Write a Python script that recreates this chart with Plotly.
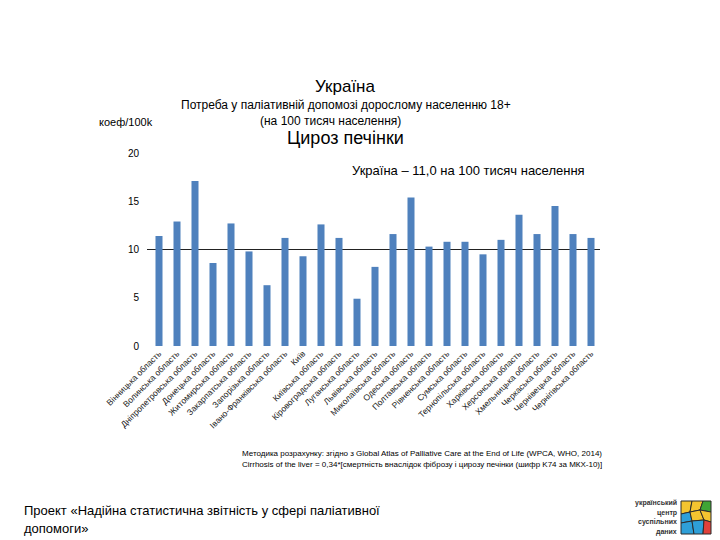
import plotly.graph_objects as go

regions = [
    "Вінницька область", "Волинська область", "Дніпропетровська область",
    "Донецька область", "Житомирська область", "Закарпатська область",
    "Запорізька область", "Івано-Франківська область", "Київ",
    "Київська область", "Кіровоградська область", "Луганська область",
    "Львівська область", "Миколаївська область", "Одеська область",
    "Полтавська область", "Рівненська область", "Сумська область",
    "Тернопільська область", "Харківська область", "Херсонська область",
    "Хмельницька область", "Черкаська область", "Чернівецька область",
    "Чернігівська область",
]
values = [11.4, 12.9, 17.1, 8.6, 12.7, 9.8, 6.3, 11.2, 9.3, 12.6, 11.2, 4.9,
          8.2, 11.6, 15.4, 10.3, 10.8, 10.8, 9.5, 11.0, 13.6, 11.6, 14.5,
          11.6, 11.2]
reference_level = 10
y_ticks = [0, 5, 10, 15, 20]

FONT = "Liberation Sans, Arial, sans-serif"
OFF = 8  # page body margin
PAGE_W, PAGE_H = 720, 540
W, H = PAGE_W - OFF, PAGE_H - OFF
L, R, T, B = 150, 600, 153, 346  # plot area in page pixels


def px(x):
    return (x - L) / (R - L)


def py(y):
    return (B - y) / (B - T)


fig = go.Figure()
fig.add_trace(go.Bar(
    x=regions, y=values,
    marker=dict(color="#4F81BD", line=dict(width=0)),
    hoverinfo="x+y",
))

annotations = []


def text(x, y, s, size, anchor="center", color="#000000", bold=False):
    if bold:
        s = "<b>" + s + "</b>"
    annotations.append(dict(
        x=px(x), y=py(y), xref="paper", yref="paper", text=s, showarrow=False,
        xanchor=anchor, yanchor="middle", font=dict(family=FONT, size=size, color=color),
    ))


text(345, 86, "Україна", 17)
text(346, 105, "Потреба у паліативній допомозі дорослому населенню 18+", 12)
text(330, 121, "(на 100 тисяч населення)", 12)
text(345, 138, "Цироз печінки", 18)
text(97, 122, "коеф/100k", 11, anchor="left")
text(350, 170, "Україна – 11,0 на 100 тисяч населення", 13, anchor="left")
text(240, 453, "Методика розрахунку: згідно з Global Atlas of Palliative Care at the End of Life (WPCA, WHO, 2014)", 8, anchor="left")
text(240, 464, "Cirrhosis of the liver = 0,34*[смертність внаслідок фіброзу і цирозу печінки (шифр K74 за МКХ-10)]", 8, anchor="left")
text(22, 510, "Проект «Надійна статистична звітність у сфері паліативної", 13, anchor="left")
text(22, 528, "допомоги»", 13, anchor="left")
for i, s in enumerate(["український", "центр", "суспільних", "даних"]):
    text(679, 503 + i * 9.5, s, 7, anchor="right", color="#333333", bold=True)

shapes = [
    dict(type="line", xref="paper", yref="y", x0=px(147), x1=px(600),
         y0=reference_level, y1=reference_level,
         line=dict(color="#222222", width=1), layer="below"),
]


def poly(points, color):
    d = "M " + " L ".join(f"{px(a)},{py(b)}" for a, b in points) + " Z"
    shapes.append(dict(type="path", xref="paper", yref="paper", path=d,
                       fillcolor=color, line=dict(color="#2b2b2b", width=1)))


poly([(681, 501), (692, 501), (690, 512), (681, 514)], "#F4C430")
poly([(692, 501), (703, 501), (700, 510), (690, 512)], "#F4C430")
poly([(703, 501), (711, 501), (711, 512), (700, 510)], "#3FA535")
poly([(681, 514), (690, 512), (692, 521), (681, 523)], "#2E9FD8")
poly([(690, 512), (700, 510), (704, 520), (692, 521)], "#F4C430")
poly([(700, 510), (711, 512), (711, 522), (704, 520)], "#F4C430")
poly([(681, 523), (692, 521), (694, 534), (681, 534)], "#2E9FD8")
poly([(692, 521), (704, 520), (703, 534), (694, 534)], "#2E9FD8")
poly([(704, 520), (711, 522), (711, 534), (703, 534)], "#E0403A")

fig.update_layout(
    width=W, height=H,
    margin=dict(l=L - OFF, r=PAGE_W - R, t=T - OFF, b=PAGE_H - B, pad=0),
    paper_bgcolor="white", plot_bgcolor="white",
    showlegend=False,
    bargap=0.61,
    font=dict(family=FONT, color="#000000"),
    annotations=annotations,
    shapes=shapes,
    xaxis=dict(
        tickangle=-45, showgrid=False, showline=False, zeroline=False,
        tickfont=dict(family=FONT, size=8.5, color="#222222"),
        ticks="", automargin=False,
    ),
    yaxis=dict(
        range=[0, 20], tickvals=y_ticks, showgrid=False, showline=False,
        zeroline=False, ticks="", ticklabelstandoff=10,
        tickfont=dict(family=FONT, size=10, color="#000000"), automargin=False,
    ),
)

fig.write_html("out.html")
